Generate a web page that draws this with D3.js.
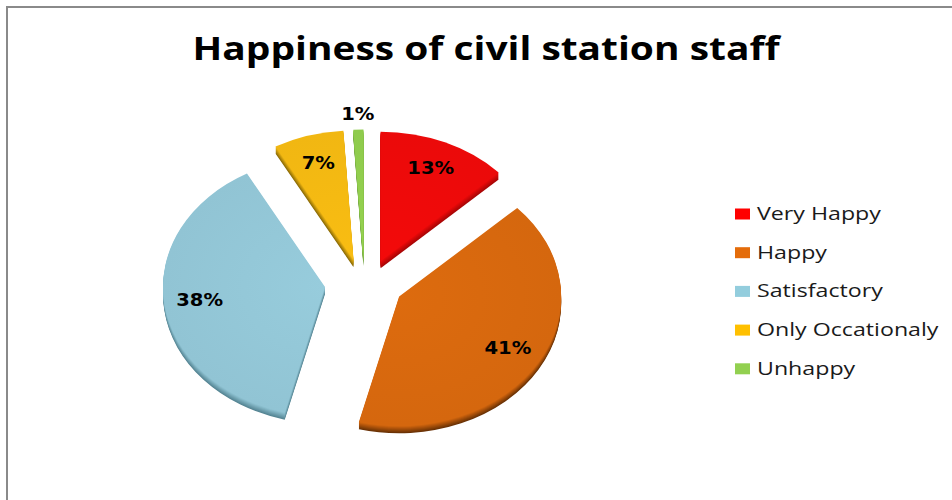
<!DOCTYPE html>
<html>
<head>
<meta charset="utf-8">
<script src="https://cdn.jsdelivr.net/npm/d3@7"></script>
<style>
  html, body { margin: 0; padding: 0; background: #fff; }
  svg { display: block; }
</style>
</head>
<body>
<svg id="chart" width="952" height="500"></svg>
<script>
// Survey answers and their shares (percent)
const categories = ["Very Happy", "Happy", "Satisfactory", "Only Occationaly", "Unhappy"];
const values = [13, 41, 38, 7, 1];
const topColors = ["#EF0A0A", "#D9690E", "#94C8D8", "#F5BA12", "#92CF4E"];
const sideColors = ["#A00606", "#5E2C05", "#4E7D8B", "#7F6205", "#5A8A2C"];
const legendColors = ["#FF0000", "#E46C0A", "#93CDDD", "#FFC000", "#92D050"];
const title = "Happiness of civil station staff";

const svg = d3.select("#chart");

// Frame of the chart area (continues past the right and bottom edges)
svg.append("path")
  .attr("d", "M952,7 H7 V500")
  .attr("fill", "none")
  .attr("stroke", "#8a8a8a")
  .attr("stroke-width", 2);

// Title
svg.append("text")
  .attr("x", 486)
  .attr("y", 60)
  .attr("text-anchor", "middle")
  .attr("font-family", "'Open Sans', sans-serif")
  .attr("font-weight", 700)
  .attr("font-size", 33)
  .attr("textLength", 587)
  .attr("lengthAdjust", "spacingAndGlyphs")
  .attr("fill", "#000")
  .text(title);

// Tilted, exploded 3D pie
const cx = 364.7, cy = 284;
const rx = 162, tilt = 0.8;       // horizontal radius and vertical squash
const explode = 40, explodeY = 0.62;
const depth = 7;

const pie = d3.pie().sort(null).value(d => d);
const arcs = pie(values);
const arc = d3.arc().innerRadius(0).outerRadius(rx);

function apex(d) {
  const m = (d.startAngle + d.endAngle) / 2;
  return [cx + explode * Math.sin(m), cy - explode * Math.cos(m) * explodeY];
}

const defs = svg.append("defs");
topColors.forEach((c, i) => {
  const g = defs.append("radialGradient")
    .attr("id", "shade" + i)
    .attr("gradientUnits", "userSpaceOnUse")
    .attr("cx", 0).attr("cy", 0).attr("r", rx);
  g.append("stop").attr("offset", "0%").attr("stop-color", d3.color(c).brighter(0.05));
  g.append("stop").attr("offset", "100%").attr("stop-color", d3.color(c).darker(0.05));
});

const pieG = svg.append("g");

// Side walls: stacked copies shifted down
arcs.forEach((d, i) => {
  const [ax, ay] = apex(d);
  for (let k = depth; k >= 1; k--) {
    pieG.append("path")
      .attr("transform", `translate(${ax},${ay + k}) scale(1,${tilt})`)
      .attr("d", arc(d))
      .attr("fill", d3.interpolateRgb(sideColors[i], topColors[i])(1 - k / depth * 0.9));
  }
});

// Top faces
arcs.forEach((d, i) => {
  const [ax, ay] = apex(d);
  pieG.append("path")
    .attr("transform", `translate(${ax},${ay}) scale(1,${tilt})`)
    .attr("d", arc(d))
    .attr("fill", `url(#shade${i})`);
});

// Percent labels (small slices are labelled outside)
arcs.forEach((d, i) => {
  const [ax, ay] = apex(d);
  const m = (d.startAngle + d.endAngle) / 2;
  const f = values[i] < 3 ? 1.12 : 0.78;
  const lx = ax + f * rx * Math.sin(m);
  const ly = ay - f * rx * tilt * Math.cos(m);
  const t = svg.append("text")
    .attr("x", lx)
    .attr("y", ly + 6)
    .attr("text-anchor", "middle")
    .attr("font-family", "'DejaVu Sans', sans-serif")
    .attr("font-weight", 700)
    .attr("font-size", 17)
    .attr("fill", "#000")
    .text(values[i] + "%");
  const w = t.node().getComputedTextLength();
  t.attr("textLength", w * 1.15).attr("lengthAdjust", "spacingAndGlyphs");
});

// Legend
const legend = svg.append("g").attr("transform", "translate(735,214)");
const rowY = d3.scalePoint().domain(categories).range([0, 38.7 * (categories.length - 1)]);
categories.forEach((c, i) => {
  const row = legend.append("g").attr("transform", `translate(0,${rowY(c)})`);
  row.append("rect")
    .attr("x", 0).attr("y", -5.5)
    .attr("width", 15).attr("height", 11)
    .attr("fill", legendColors[i]);
  const t = row.append("text")
    .attr("x", 22)
    .attr("y", 6)
    .attr("font-family", "'Open Sans', sans-serif")
    .attr("font-size", 19)
    .attr("fill", "#1a1a1a")
    .text(c);
  const w = t.node().getComputedTextLength();
  t.attr("textLength", w * 1.22).attr("lengthAdjust", "spacingAndGlyphs");
});
</script>
</body>
</html>
